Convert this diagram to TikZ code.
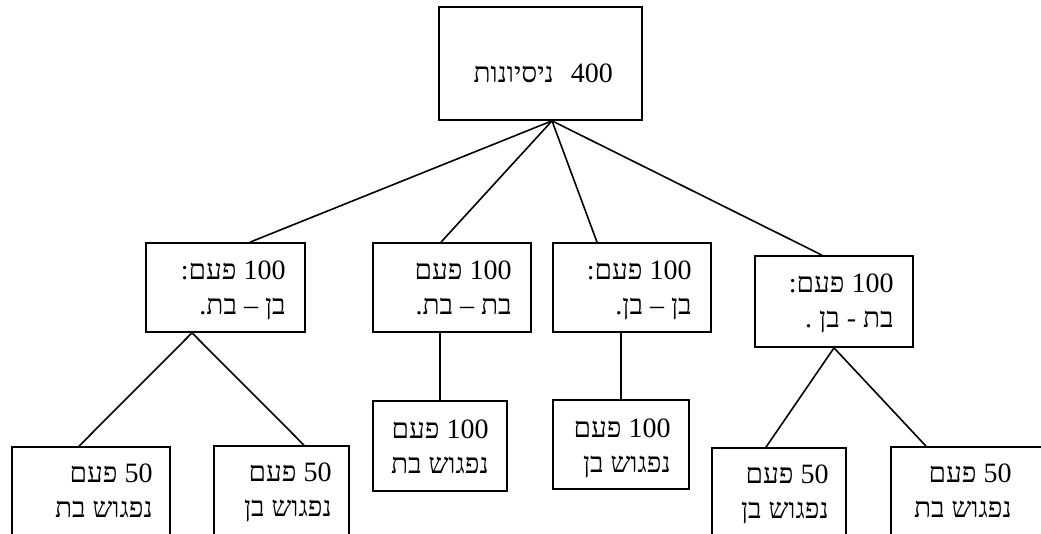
\documentclass[tikz,border=0pt]{standalone}
\usepackage{fontspec}
\setmainfont{Liberation Serif}
\newfontfamily\hebfont[Script=Hebrew]{Liberation Serif}
\TeXXeTstate=1
\newcommand\hebline[1]{\beginR #1\endR}
\newcommand\ltr[1]{\beginL #1\endL}
\begin{document}
\begin{tikzpicture}[x=1pt,y=-1pt,
  box/.style={draw, line width=1.7pt, rectangle, inner sep=0pt},
  conn/.style={line width=1.6pt},
  txt/.style={anchor=base east, inner sep=0pt, font=\hebfont\fontsize{28}{33}\selectfont}]
\useasboundingbox (0,0) rectangle (1041,533);
\clip (0,0) rectangle (1041,533);
% boxes
\node[box, minimum width=203, minimum height=113] (T) at (540.5,63.5) {};
\node[box, minimum width=159, minimum height=89] (A) at (225.5,287.5) {};
\node[box, minimum width=158, minimum height=89] (B) at (452,287.5) {};
\node[box, minimum width=158, minimum height=89] (C) at (632,287.5) {};
\node[box, minimum width=158, minimum height=91] (D) at (834,301.5) {};
\node[box, minimum width=158, minimum height=100] (E) at (91,497) {};
\node[box, minimum width=135, minimum height=100] (F) at (281.5,496) {};
\node[box, minimum width=134, minimum height=90] (G) at (440,446) {};
\node[box, minimum width=136, minimum height=89] (H) at (621,444.5) {};
\node[box, minimum width=134, minimum height=100] (I) at (779,498) {};
\node[box, minimum width=170, minimum height=100] (J) at (976,497) {};
% texts
\node[txt] (Tt) at (613,82) {\hebline{\ltr{400}\hspace{17pt}ניסיונות}};
\node[txt] (A1) at ([xshift=-20,yshift=-37]A.north east) {\hebline{\ltr{100} פעם:}};
\node[txt] (A2) at ([xshift=-20,yshift=-72]A.north east) {\hebline{בן – בת.}};
\node[txt] (B1) at ([xshift=-20,yshift=-37]B.north east) {\hebline{\ltr{100} פעם}};
\node[txt] (B2) at ([xshift=-20,yshift=-72]B.north east) {\hebline{בת – בת.}};
\node[txt] (C1) at ([xshift=-20,yshift=-37]C.north east) {\hebline{\ltr{100} פעם:}};
\node[txt] (C2) at ([xshift=-20,yshift=-72]C.north east) {\hebline{בן – בן.}};
\node[txt] (D1) at ([xshift=-20,yshift=-37]D.north east) {\hebline{\ltr{100} פעם:}};
\node[txt] (D2) at ([xshift=-20,yshift=-72]D.north east) {\hebline{בת - בן .}};
\node[txt] (E1) at ([xshift=-18,yshift=-36]E.north east) {\hebline{\ltr{50} פעם}};
\node[txt] (E2) at ([xshift=-18,yshift=-71]E.north east) {\hebline{נפגוש בת}};
\node[txt] (F1) at ([xshift=-18,yshift=-36]F.north east) {\hebline{\ltr{50} פעם}};
\node[txt] (F2) at ([xshift=-18,yshift=-71]F.north east) {\hebline{נפגוש בן}};
\node[txt] (G1) at ([xshift=-19,yshift=-38]G.north east) {\hebline{\ltr{100} פעם}};
\node[txt] (G2) at ([xshift=-19,yshift=-73]G.north east) {\hebline{נפגוש בת}};
\node[txt] (H1) at ([xshift=-19,yshift=-38]H.north east) {\hebline{\ltr{100} פעם}};
\node[txt] (H2) at ([xshift=-19,yshift=-73]H.north east) {\hebline{נפגוש בן}};
\node[txt] (I1) at ([xshift=-18,yshift=-36]I.north east) {\hebline{\ltr{50} פעם}};
\node[txt] (I2) at ([xshift=-18,yshift=-71]I.north east) {\hebline{נפגוש בן}};
\node[txt] (J1) at ([xshift=-50,yshift=-36]J.north east) {\hebline{\ltr{50} פעם}};
\node[txt] (J2) at ([xshift=-50,yshift=-71]J.north east) {\hebline{נפגוש בת}};
% connectors
\draw[conn] ([xshift=11.5]T.south) -- ([xshift=24.5]A.north);
\draw[conn] ([xshift=11.5]T.south) -- ([xshift=-11]B.north);
\draw[conn] ([xshift=11.5]T.south) -- ([xshift=-35]C.north);
\draw[conn] ([xshift=11.5]T.south) -- ([xshift=-12]D.north);
\draw[conn] ([xshift=-33.5]A.south) -- ([xshift=-12]E.north);
\draw[conn] ([xshift=-33.5]A.south) -- ([xshift=22.5]F.north);
\draw[conn] ([xshift=-12]B.south) -- (G.north);
\draw[conn] ([xshift=-11]C.south) -- (H.north);
\draw[conn] (D.south) -- ([xshift=-13]I.north);
\draw[conn] (D.south) -- ([xshift=-50]J.north);
\end{tikzpicture}
\end{document}
